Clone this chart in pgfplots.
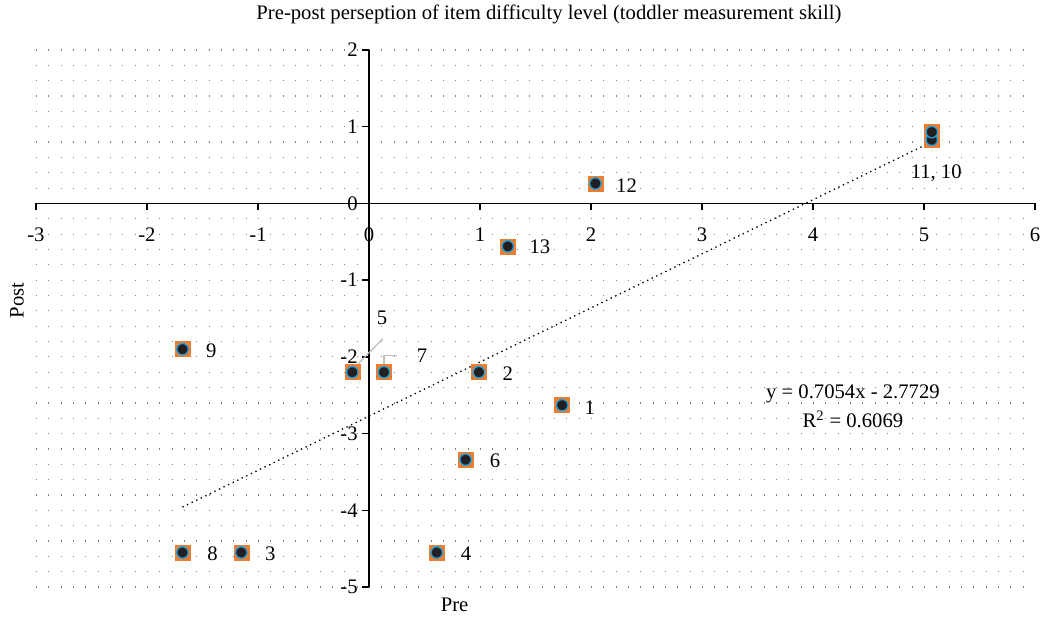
\documentclass[border=0pt]{standalone}
\usepackage{pgfplots}
\pgfplotsset{compat=1.18}
\usepackage{fontspec}
\setmainfont{Liberation Serif}
\definecolor{mkorange}{HTML}{ED7D31}
\definecolor{mkblue}{HTML}{1EA0DC}
\definecolor{mkblack}{HTML}{231F20}
\definecolor{leader}{HTML}{BFBFBF}
\newcommand\lblfont{\fontsize{15.5}{17}\selectfont}
\begin{document}
\begin{tikzpicture}
\begin{axis}[
    scale only axis,
    width=749.25pt, height=402.75pt,
    xmin=-3, xmax=6, ymin=-5, ymax=2,
    axis lines=middle,
    axis line style={-, line width=1pt, black},
    xtick={-3,...,6}, ytick={-5,...,2},
    hide obscured x ticks=false, hide obscured y ticks=false,
    tick align=outside,
    major tick length=5pt,
    tick style={black, line width=1pt},
    minor y tick num=4,
    minor tick length=0pt,
    ymajorgrids, yminorgrids,
    grid style={gray, line width=0.9pt, dash pattern=on 0.75pt off 8.5pt},
    xticklabel style={anchor=north, yshift=-10pt},
    yticklabel style={anchor=east},
    /pgf/number format/assume math mode=true,
    ticklabel style={font=\lblfont},
    clip=false,
    xlabel={Pre},
    xlabel style={at={(rel axis cs:0.419,-0.0335)}, anchor=center, font=\lblfont},
    ylabel={Post},
    ylabel style={at={(rel axis cs:-0.019,0.534)}, anchor=center, rotate=90, font=\lblfont},
]
% trend line (linear fit, drawn over the data range)
\addplot[black, line width=1pt, dash pattern=on 1pt off 2.8pt] coordinates {
    (-1.68,-3.958) (5.07,0.8035)
};
% markers
\addplot[only marks, mark=square*, mark size=5.6pt, mark options={fill=mkorange, draw=mkorange}]
    coordinates {
    (1.74,-2.63) (0.99,-2.20) (-1.15,-4.55) (0.61,-4.55) (-0.15,-2.20)
    (0.87,-3.34) (0.135,-2.20) (-1.68,-4.55) (-1.68,-1.90)
    (5.07,0.83) (5.07,0.93) (2.04,0.26) (1.25,-0.56)
};
\addplot[only marks, mark=*, mark size=4.3pt, mark options={fill=mkblack, draw=mkblue, line width=1pt}]
    coordinates {
    (1.74,-2.63) (0.99,-2.20) (-1.15,-4.55) (0.61,-4.55) (-0.15,-2.20)
    (0.87,-3.34) (0.135,-2.20) (-1.68,-4.55) (-1.68,-1.90)
    (5.07,0.83) (5.07,0.93) (2.04,0.26) (1.25,-0.56)
};
% leader lines for labels 5 and 7
\addplot[leader, line width=0.9pt, no marks] coordinates {(-0.15,-2.17) (0.126,-1.76)};
\addplot[leader, line width=0.9pt, no marks] coordinates {(0.135,-2.17) (0.135,-1.98) (0.252,-1.98)};
% point labels
\begin{scope}[every node/.style={font=\lblfont, anchor=center}]
\node at (rel axis cs:0.5135,1.067) {Pre-post perseption of item difficulty level (toddler measurement skill)};
\node at (axis cs:1.99,-2.66) {1};
\node at (axis cs:1.25,-2.22) {2};
\node at (axis cs:-0.89,-4.56) {3};
\node at (axis cs:0.874,-4.56) {4};
\node at (axis cs:0.117,-1.49) {5};
\node at (axis cs:1.135,-3.36) {6};
\node at (axis cs:0.477,-1.99) {7};
\node at (axis cs:-1.41,-4.56) {8};
\node at (axis cs:-1.42,-1.92) {9};
\node at (axis cs:5.11,0.40) {11, 10};
\node at (axis cs:2.32,0.235) {12};
\node at (axis cs:1.54,-0.57) {13};
\node at (axis cs:4.36,-2.48) {y = 0.7054x - 2.7729};
\node at (axis cs:4.36,-2.82) {R\textsuperscript{2} = 0.6069};
\end{scope}
\coordinate (bbl) at (axis cs:-3.324,-5.443);
\coordinate (btr) at (axis cs:6.063,2.652);
\end{axis}
\pgfresetboundingbox
\path (bbl) rectangle (btr);
\end{tikzpicture}
\end{document}
